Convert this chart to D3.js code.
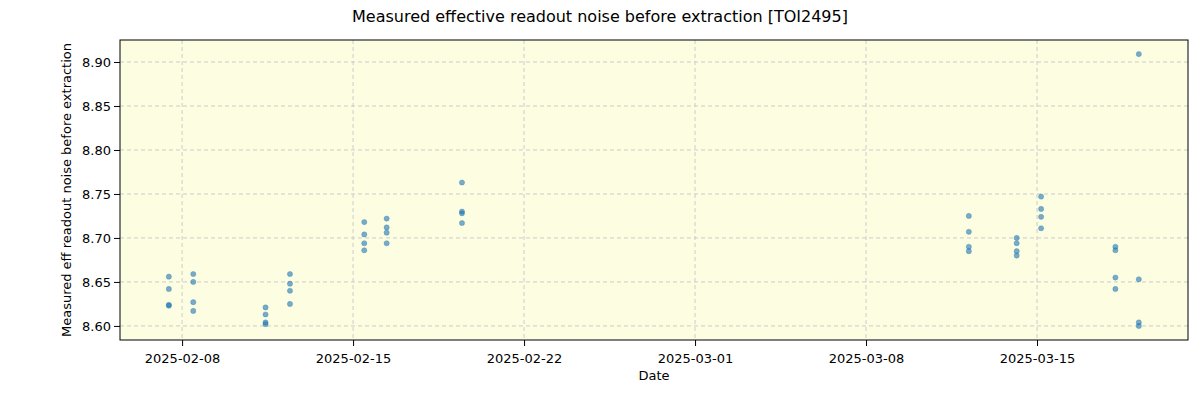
<!DOCTYPE html><html><head><script src="https://cdn.jsdelivr.net/npm/d3@7"></script>
<style>body{margin:0;background:#fff;font-family:"DejaVu Sans",sans-serif}</style></head><body><svg width="1200" height="400"></svg><script>
const dates=["2025-02-07T11","2025-02-07T11","2025-02-07T11","2025-02-07T11",
"2025-02-08T11","2025-02-08T11","2025-02-08T11","2025-02-08T11",
"2025-02-11T10","2025-02-11T10","2025-02-11T10","2025-02-11T10",
"2025-02-12T10","2025-02-12T10","2025-02-12T10","2025-02-12T10",
"2025-02-15T11","2025-02-15T11","2025-02-15T11","2025-02-15T11",
"2025-02-16T09","2025-02-16T09","2025-02-16T09","2025-02-16T09",
"2025-02-19T11","2025-02-19T11","2025-02-19T11","2025-02-19T11",
"2025-03-12T05","2025-03-12T05","2025-03-12T05","2025-03-12T05",
"2025-03-14T04","2025-03-14T04","2025-03-14T04","2025-03-14T04",
"2025-03-15T04","2025-03-15T04","2025-03-15T04","2025-03-15T04",
"2025-03-18T05","2025-03-18T05","2025-03-18T05","2025-03-18T05",
"2025-03-19T04","2025-03-19T04","2025-03-19T04","2025-03-19T04"];
const values=[8.656,8.642,8.624,8.623,
8.659,8.650,8.627,8.617,
8.621,8.613,8.604,8.602,
8.659,8.648,8.640,8.625,
8.718,8.704,8.694,8.686,
8.722,8.712,8.706,8.694,
8.763,8.730,8.728,8.717,
8.725,8.707,8.690,8.685,
8.700,8.694,8.685,8.680,
8.747,8.733,8.724,8.711,
8.690,8.686,8.655,8.642,
8.909,8.653,8.604,8.600];
const xTicks=["2025-02-08","2025-02-15","2025-02-22","2025-03-01","2025-03-08","2025-03-15"];
const yTicks=[8.60,8.65,8.70,8.75,8.80,8.85,8.90];
const L=120,R=1188,T=40,B=340;
const svg=d3.select("svg");
const x=d3.scaleTime().domain([new Date("2025-02-05T11:00"),new Date("2025-03-21T04:20")]).range([L,R]);
const y=d3.scaleLinear().domain([8.584,8.925]).range([B,T]);
svg.append("rect").attr("x",L).attr("y",T).attr("width",R-L).attr("height",B-T).attr("fill","#fdfde1");
const g=svg.append("g");
xTicks.forEach(t=>{const px=x(new Date(t+"T00:00"));g.append("line").attr("x1",px).attr("x2",px).attr("y1",T).attr("y2",B).attr("stroke","#ccc").attr("stroke-dasharray","4,3");});
yTicks.forEach(t=>{g.append("line").attr("x1",L).attr("x2",R).attr("y1",y(t)).attr("y2",y(t)).attr("stroke","#ccc").attr("stroke-dasharray","4,3");});
svg.selectAll("circle").data(values).join("circle").attr("cx",(d,i)=>x(new Date(dates[i]+":00"))).attr("cy",d=>y(d)).attr("r",2.6).attr("fill","#1f77b4").attr("fill-opacity",0.6).attr("stroke","#1f77b4").attr("stroke-opacity",0.3);
svg.append("rect").attr("x",L).attr("y",T).attr("width",R-L).attr("height",B-T).attr("fill","none").attr("stroke","#000");
const xa=svg.append("g").attr("transform",`translate(0,${B})`).call(d3.axisBottom(x).tickValues(xTicks.map(t=>new Date(t+"T00:00"))).tickFormat(d3.timeFormat("%Y-%m-%d")).tickSizeOuter(0));
const ya=svg.append("g").attr("transform",`translate(${L},0)`).call(d3.axisLeft(y).tickValues(yTicks).tickFormat(d3.format(".2f")).tickSizeOuter(0));
[xa,ya].forEach(a=>{a.select(".domain").remove();a.selectAll("text").attr("font-size",13).attr("fill","#000").attr("font-family","DejaVu Sans");a.selectAll("line").attr("stroke","#000");});
xa.selectAll("text").attr("dy","1.1em");
svg.append("text").attr("x",600).attr("y",22).attr("text-anchor","middle").attr("font-size",16).text("Measured effective readout noise before extraction [TOI2495]");
svg.append("text").attr("x",654).attr("y",380).attr("text-anchor","middle").attr("font-size",13).text("Date");
svg.append("text").attr("transform","translate(71,190) rotate(-90)").attr("text-anchor","middle").attr("font-size",13).text("Measured eff readout noise before extraction");
</script></body></html>
